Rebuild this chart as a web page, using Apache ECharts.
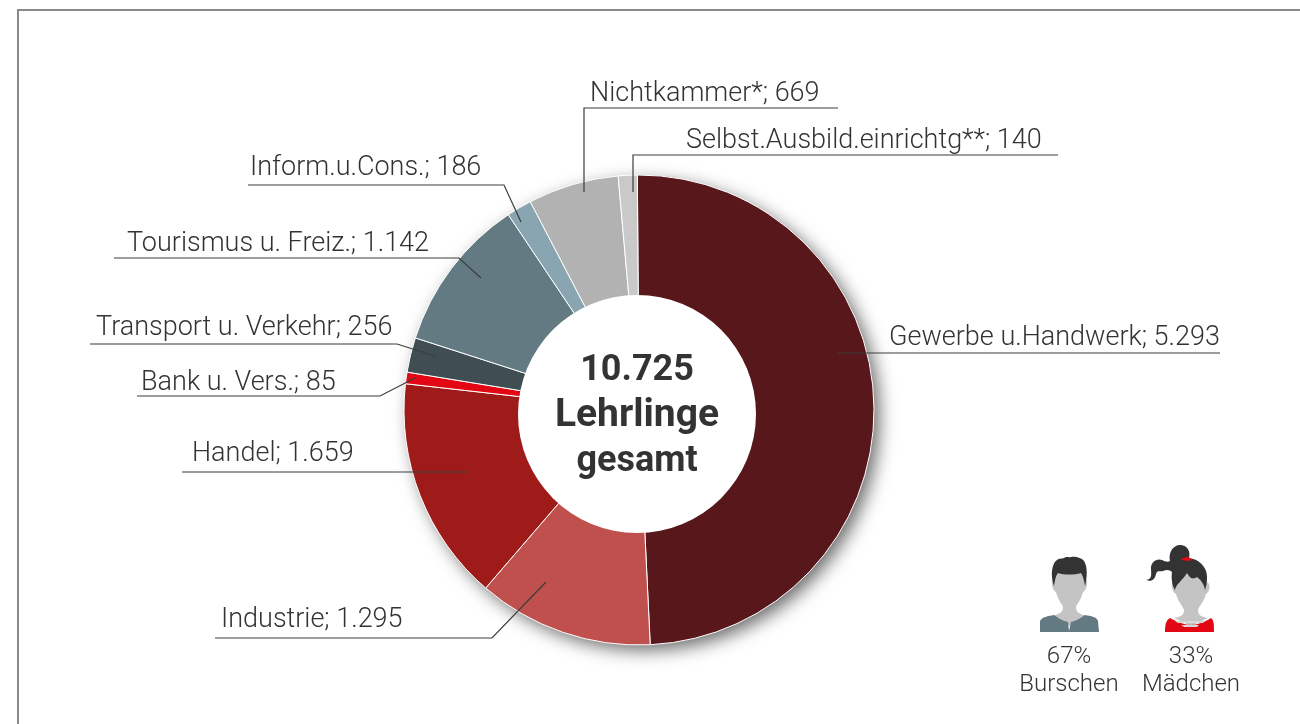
<!DOCTYPE html>
<html>
<head>
    <meta charset="UTF-8">
    <title>Lehrlinge gesamt</title>
    <script src="https://cdn.jsdelivr.net/npm/echarts@6/dist/echarts.min.js"></script>
    <style>
        html, body { margin: 0; padding: 0; background: #fff; }
    </style>
</head>
<body>
    <div id="main" style="width:1300px;height:724px;"></div>
    <script>
        var categories = ['Gewerbe u.Handwerk', 'Industrie', 'Handel', 'Bank u. Vers.', 'Transport u. Verkehr',
            'Tourismus u. Freiz.', 'Inform.u.Cons.', 'Nichtkammer*', 'Selbst.Ausbild.einrichtg**'];
        var values = [5293, 1295, 1659, 85, 256, 1142, 186, 669, 140];
        var colors = ['#58171b', '#c0504d', '#9e1b1a', '#e30613', '#404d52', '#647a82', '#8aa5b2', '#b2b2b2', '#c9c9c9'];
        var centerLines = ['10.725', 'Lehrlinge', 'gesamt'];
        var genderShares = ['67%', '33%'];
        var genderNames = ['Burschen', 'Mädchen'];

        // label anchor (left end of text, middle) and leader line for each slice
        var labelPos = [[889, 338], [221, 620], [192, 454], [141, 383], [96, 328], [127, 244], [250, 168], [590, 94], [686, 141]];
        var leaders = [
            [[838, 353], [1220, 353]],
            [[215, 638], [492, 638], [546, 582]],
            [[182, 472], [467, 472]],
            [[137, 396], [380, 396], [415, 378]],
            [[90, 344], [397, 344], [435, 356]],
            [[114, 258], [459, 258], [481, 278]],
            [[248, 185], [504, 185], [521, 222]],
            [[838, 108], [584, 108], [584, 192]],
            [[1058, 155], [633, 155], [633, 192]]
        ];

        var textFont = 'Roboto';
        var textColor = '#333333';

        function fmt(n) {
            return String(n).replace(/\B(?=(\d{3})+$)/g, '.');
        }

        var pieData = [];
        for (var i = 0; i < categories.length; i++) {
            pieData.push({ name: categories[i], value: values[i], itemStyle: { color: colors[i] } });
        }

        // person icons, drawn by hand
        var iconShapes = {
            boyFace: 'M1056 566L1083 566L1085 578C1089 580 1087 590 1083 592C1081 600 1077 604 1076 607C1076 612 1079 614 1087 616L1069 626L1052 616C1060 614 1063 612 1063 607C1062 604 1058 600 1056 592C1052 590 1050 580 1054 578Z',
            boyHair: 'M1054 586C1050 575 1052 563 1057 560C1059 558 1062 559 1064 558C1067 556 1069 558 1071 557C1075 556 1082 558 1084 561C1088 567 1087 578 1085 586C1084 580 1083 576 1081 573C1074 575 1064 575 1058 573C1056 575 1055 580 1054 586Z',
            boyShirt: 'M1040 632L1040 621C1042 617 1048 616 1054 615C1058 618 1063 621 1068 622L1069 631L1071 622C1076 621 1081 618 1085 615C1091 616 1097 617 1098 621L1099 632Z',
            girlFace: 'M1176 570L1206 570L1207 582C1211 584 1210 592 1206 594C1204 602 1199 606 1198 610C1198 615 1201 617 1208 618L1191 626L1174 618C1181 617 1184 615 1184 610C1183 606 1178 602 1176 594C1172 592 1170 584 1174 582Z',
            girlHair: 'M1146 579C1150 581 1152 577 1151 570C1150 562 1157 558 1162 560C1166 562 1168 562 1170 561C1168 553 1173 545 1180 545C1187 545 1191 551 1189 558C1198 559 1207 566 1207 577C1207 583 1206 587 1205 590C1204 584 1201 580 1197 577C1192 580 1190 578 1187 573C1183 580 1176 584 1175 590C1172 586 1171 578 1172 572C1170 570 1167 569 1163 571C1160 572 1157 570 1156 574C1155 580 1150 583 1146 579Z',
            girlTie: 'M1181 560C1184 556 1189 556 1192 560L1188 561Z',
            girlShirt: 'M1165 632C1165 625 1166 620 1170 618C1177 622 1185 625 1191 625C1197 625 1205 622 1211 618C1214 620 1214 625 1214 632Z',
            girlStripes: 'M1175 621L1205 621L1203 623L1178 623ZM1181 625L1199 625L1197 627L1184 627Z'
        };
        Object.keys(iconShapes).forEach(function (k) {
            echarts.graphic.registerShape(k, echarts.graphic.extendPath(iconShapes[k], {}));
        });

        function iconPath(name, fill) {
            return { type: name, z: 1, style: { fill: fill } };
        }

        function plainText(str, x, y, size, weight) {
            return {
                type: 'text', z: 6, x: x, y: y,
                style: { text: str, fill: textColor, fontFamily: textFont, fontSize: size, fontWeight: weight, align: 'center', verticalAlign: 'middle' }
            };
        }

        var graphics = [
            // frame
            { type: 'polyline', z: 0, shape: { points: [[18, 724], [18, 10], [1300, 10]] }, style: { fill: null, stroke: '#8a8a8a', lineWidth: 2 } },
            // drop shadow below the ring
            { type: 'circle', z: 0, shape: { cx: 639, cy: 410, r: 234 }, style: { fill: '#bbb', shadowBlur: 18, shadowOffsetX: 6, shadowOffsetY: 6, shadowColor: 'rgba(0,0,0,0.6)' } },
            // hole sits slightly off the ring centre in the reference
            { type: 'circle', z: 5, shape: { cx: 637, cy: 414, r: 119 }, style: { fill: '#fff' } },
            plainText(centerLines[0], 637, 371, 36, 700),
            plainText(centerLines[1], 637, 416, 39, 700),
            plainText(centerLines[2], 637, 462, 36, 700),
            iconPath('boyFace', '#c4c4c4'),
            iconPath('boyHair', '#333333'),
            iconPath('boyShirt', '#647a82'),
            iconPath('girlFace', '#c4c4c4'),
            iconPath('girlHair', '#333333'),
            iconPath('girlTie', '#e30613'),
            iconPath('girlShirt', '#e30613'),
            iconPath('girlStripes', '#d8d8d8'),
            plainText(genderShares[0], 1069, 657, 24, 300),
            plainText(genderNames[0], 1069, 685, 24, 300),
            plainText(genderShares[1], 1191, 657, 24, 300),
            plainText(genderNames[1], 1191, 685, 24, 300)
        ];
        // leader lines go on top of the slices, which the pie's own labelLine does not
        leaders.forEach(function (pts) {
            graphics.push({ type: 'polyline', z: 7, shape: { points: pts }, style: { fill: null, stroke: '#3c3c3c', lineWidth: 1.2 } });
        });

        var chart = echarts.init(document.getElementById('main'));
        chart.setOption({
            animation: false,
            graphic: graphics,
            series: [{
                type: 'pie',
                center: [639, 410],
                radius: [105, 235],
                startAngle: 90.4,
                clockwise: true,
                minAngle: 0,
                avoidLabelOverlap: false,
                itemStyle: { borderColor: '#fff', borderWidth: 1 },
                emphasis: { disabled: true },
                label: {
                    show: true,
                    position: 'outside',
                    color: textColor,
                    fontFamily: textFont,
                    fontWeight: 300,
                    fontSize: 27,
                    formatter: function (p) { return p.name + '; ' + fmt(p.value); }
                },
                labelLine: { show: false },
                labelLayout: function (p) {
                    var idx = p.dataIndex;
                    return {
                        x: labelPos[idx][0], y: labelPos[idx][1],
                        align: 'left', verticalAlign: 'middle'
                    };
                },
                data: pieData
            }]
        });
    </script>
</body>
</html>
